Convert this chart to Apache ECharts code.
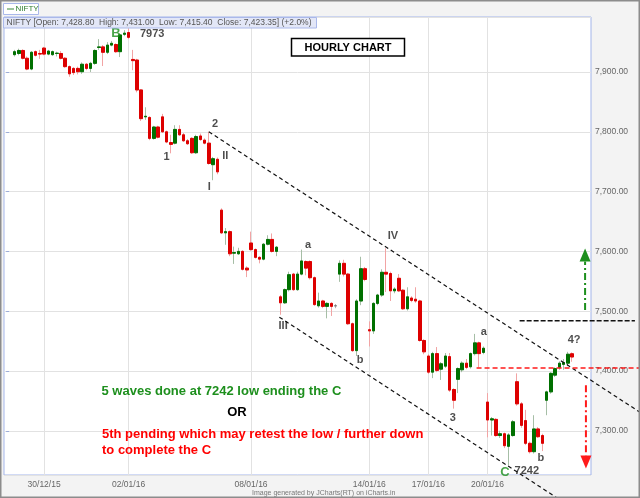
<!DOCTYPE html>
<html>
<head>
<meta charset="utf-8">
<title>NIFTY hourly</title>
<script src="https://cdn.jsdelivr.net/npm/echarts@6/dist/echarts.min.js"></script>
<style>
  html, body { margin: 0; padding: 0; background: #f3f3f3; }
  #chart { width: 640px; height: 498px; }
</style>
</head>
<body>
<div id="chart"></div>
<script>
// hourly candles, oldest first
const opens = [
  7929, 7931, 7936, 7923, 7905, 7934, 7931, 7940, 7930, 7929,
  7931, 7931, 7923, 7909, 7906, 7906, 7900.5, 7913, 7906, 7914.5,
  7941, 7942, 7933, 7945, 7946, 7934, 7963, 7966, 7921, 7920,
  7870, 7825, 7824, 7789, 7808, 7825, 7800, 7782, 7781, 7804,
  7795, 7785, 7789, 7765, 7793, 7786, 7781, 7745, 7754, 7669,
  7631, 7633, 7597, 7596, 7600, 7572, 7614, 7603, 7590, 7587,
  7612, 7620, 7600, 7524, 7514, 7536, 7562, 7536, 7562, 7583,
  7583, 7556, 7509, 7517, 7508, 7513, 7509, 7562, 7580, 7562,
  7479, 7434, 7517, 7571, 7469, 7467, 7513, 7527, 7565, 7563,
  7534, 7555, 7535, 7504, 7522, 7520, 7517, 7451, 7425, 7398,
  7429, 7403, 7408, 7424, 7369, 7386, 7402, 7413, 7407, 7429,
  7447, 7431, 7348, 7318, 7319, 7292, 7295, 7274, 7292, 7382,
  7345, 7317, 7279, 7265, 7303, 7292, 7351, 7365, 7393, 7406,
  7411, 7413, 7428.8
];
const highs = [
  7937, 7939, 7938, 7926, 7935, 7936, 7937, 7942, 7937, 7936,
  7934, 7935, 7925, 7911, 7908, 7909, 7916, 7915, 7917, 7938,
  7955, 7945, 7950, 7952, 7948, 7964, 7970, 7973, 7937, 7922,
  7871, 7841, 7826, 7810, 7810, 7830, 7802, 7795, 7811, 7811,
  7798, 7788, 7791, 7795, 7797, 7789, 7800, 7758, 7757, 7672,
  7639, 7635, 7608, 7606, 7602, 7575, 7633, 7605, 7592, 7614,
  7627, 7630, 7609, 7527, 7538, 7566, 7564, 7566, 7603, 7585,
  7585, 7558, 7531, 7519, 7515, 7515, 7512, 7585, 7586, 7564,
  7481, 7520, 7591, 7574, 7483, 7515, 7529, 7570, 7605, 7566,
  7540, 7562, 7537, 7540, 7525, 7540, 7519, 7453, 7428, 7432,
  7440, 7415, 7430, 7430, 7371, 7406, 7416, 7420, 7431, 7462,
  7449, 7441, 7363, 7323, 7321, 7300, 7297, 7296, 7318, 7396,
  7348, 7335, 7282, 7326, 7306, 7295, 7367, 7398, 7406, 7416,
  7420, 7432, 7431
];
const lows = [
  7926, 7928, 7921, 7903, 7903, 7926, 7922, 7928, 7928, 7927,
  7926, 7921, 7907, 7892, 7895, 7896, 7897, 7903, 7900, 7912,
  7937, 7910, 7930, 7943, 7932, 7925, 7960, 7955, 7903, 7866,
  7818, 7820, 7786, 7787, 7789, 7798, 7781, 7764, 7779, 7793,
  7783, 7778, 7763, 7763, 7785, 7779, 7745, 7719, 7729, 7629,
  7611, 7592, 7579, 7594, 7568, 7557, 7601, 7588, 7580, 7585,
  7610, 7598, 7592, 7494, 7512, 7533, 7534, 7534, 7560, 7560,
  7553, 7509, 7506, 7505, 7488, 7492, 7505, 7549, 7558, 7477,
  7432, 7425, 7510, 7550, 7441, 7462, 7510, 7524, 7532, 7517,
  7530, 7532, 7502, 7501, 7515, 7514, 7449, 7428, 7395, 7388,
  7398, 7385, 7405, 7365, 7337, 7363, 7398, 7403, 7404, 7426,
  7406, 7428, 7289, 7292, 7290, 7288, 7271, 7242, 7290, 7342,
  7305, 7276, 7262, 7262, 7288, 7266, 7326, 7362, 7390, 7402,
  7402, 7408, 7415.4
];
const closes = [
  7934, 7936, 7923, 7905, 7933, 7928, 7930, 7930, 7935, 7934,
  7931.5, 7923, 7909, 7897, 7899, 7900.5, 7913, 7906, 7914.5, 7936,
  7942, 7933, 7945, 7948, 7934, 7962, 7965, 7958, 7919, 7870,
  7822, 7826, 7789, 7808, 7791, 7800, 7783, 7779, 7804, 7795,
  7785, 7780, 7765, 7792, 7787, 7781, 7747, 7755, 7733, 7631,
  7633, 7596, 7598, 7600, 7570, 7569, 7603, 7590, 7587, 7612,
  7620, 7600, 7607, 7514, 7536, 7561, 7536, 7562, 7584, 7572,
  7556, 7511, 7517, 7508, 7513, 7508, 7509, 7580, 7562, 7479,
  7434, 7517, 7571, 7553, 7467, 7513, 7527, 7565, 7562, 7534,
  7537, 7534, 7504, 7524, 7518, 7517, 7451, 7432, 7398, 7429,
  7401, 7412, 7425, 7368, 7351, 7404, 7413, 7406, 7429, 7447,
  7429, 7438, 7318, 7320, 7292, 7295, 7275, 7293, 7315, 7345,
  7309, 7279, 7265, 7303, 7290, 7279, 7365, 7396, 7404, 7413,
  7414, 7428, 7423.35
];

// date labels on the x axis: candle number -> text
const tickBars = [7, 27, 56, 84, 98, 112];
const tickLabels = ['30/12/15', '02/01/16', '08/01/16', '14/01/16', '17/01/16', '20/01/16'];

// wave count marks: text, candle number, price
const waveText  = ['B', '7973', '2', '1', 'II', 'I', 'a', 'IV', 'III', 'b', 'a', '4?', '3', 'b', 'C', '7242'];
const waveBar   = [24, 32.6, 47.5, 36, 49.9, 46.1, 69.5, 89.6, 63.6, 81.8, 111.1, 132.5, 103.8, 124.6, 116.1, 121.3];
const wavePrice = [7965, 7963, 7813, 7758, 7760, 7707, 7611, 7625, 7475, 7418, 7465, 7452, 7322, 7255, 7230, 7232];

// drawn lines, [candle number, price] end points (arrows: start, tip)
const upperChannel = [[46, 7800], [148.1, 7331]];
const lowerChannel = [[62.7, 7490], [128.6, 7187]];
const upperLevel   = [[119.6, 7484], [146.9, 7484]];
const lowerLevel   = [[109.4, 7405], [148.1, 7405]];
const upTarget     = [[135.1, 7502], [135.1, 7605]];
const downTarget   = [[135.3, 7376], [135.3, 7237]];

const PAD_LEFT = 2, PAD_RIGHT = 4;
const N = opens.length + PAD_LEFT + PAD_RIGHT;
const FONT = '"Liberation Sans", Arial, sans-serif';

const categories = [];
for (let i = 0; i < N; i++) categories.push('k' + i);

const wickData = [], bodyData = [];
for (let i = 0; i < N; i++) {
  const n = i - PAD_LEFT;
  if (n < 0 || n >= opens.length) { wickData.push('-'); bodyData.push('-'); continue; }
  const o = opens[n], c = closes[n];
  // echarts order: open, close, low, high
  wickData.push([o, c, lows[n], highs[n]]);
  bodyData.push([o, c, Math.min(o, c), Math.max(o, c)]);
}

const waveData = waveText.map((t, i) => {
  let color = '#222', size = 11;
  if (t === 'B' || t === 'C') { color = '#1d8f1d'; size = 13; }
  return {
    value: [waveBar[i] + PAD_LEFT, wavePrice[i]],
    label: { formatter: t, color: color, fontSize: size }
  };
});

// fixed page furniture (legend box, header strip, title box, notes)
const staticGraphic = [
  { type: 'rect', z: 50, silent: true, shape: { x: 3.5, y: 3.5, width: 35, height: 11 },
    style: { fill: '#fff', stroke: '#a9b8ea', lineWidth: 1 } },
  { type: 'line', z: 51, silent: true, shape: { x1: 7, y1: 9, x2: 14, y2: 9 },
    style: { stroke: '#3a8a3a', lineWidth: 1 } },
  { type: 'text', z: 51, silent: true, x: 15.5, y: 9.2,
    style: { text: 'NIFTY', fill: '#2f7f2f', font: '8px ' + FONT, verticalAlign: 'middle' } },
  { type: 'rect', z: 50, silent: true, shape: { x: 3.5, y: 17.5, width: 313, height: 10.5 },
    style: { fill: '#e3e7f7', stroke: '#aab8ea', lineWidth: 1 } },
  { type: 'text', z: 51, silent: true, x: 6.5, y: 23,
    style: { text: 'NIFTY [Open: 7,428.80  High: 7,431.00  Low: 7,415.40  Close: 7,423.35] (+2.0%)',
      fill: '#555', font: '8.5px ' + FONT, verticalAlign: 'middle' } },
  { type: 'rect', z: 50, silent: true, shape: { x: 291.5, y: 38.5, width: 113, height: 17.5 },
    style: { fill: '#fff', stroke: '#000', lineWidth: 1.5 } },
  { type: 'text', z: 51, silent: true, x: 348, y: 47.5,
    style: { text: 'HOURLY CHART', fill: '#000', font: 'bold 11px ' + FONT, align: 'center', verticalAlign: 'middle' } },
  { type: 'text', z: 51, silent: true, x: 101.5, y: 391,
    style: { text: '5 waves done at 7242 low ending the C', fill: '#1d8f1d', font: 'bold 13px ' + FONT, verticalAlign: 'middle' } },
  { type: 'text', z: 51, silent: true, x: 237, y: 412,
    style: { text: 'OR', fill: '#000', font: 'bold 13px ' + FONT, align: 'center', verticalAlign: 'middle' } },
  { type: 'text', z: 51, silent: true, x: 102, y: 434.5,
    style: { text: '5th pending which may retest the low / further down', fill: '#ff0000', font: 'bold 13px ' + FONT, verticalAlign: 'middle' } },
  { type: 'text', z: 51, silent: true, x: 102, y: 450.5,
    style: { text: 'to complete the C', fill: '#ff0000', font: 'bold 13px ' + FONT, verticalAlign: 'middle' } },
  { type: 'text', z: 51, silent: true, x: 252, y: 493.5,
    style: { text: 'Image generated by JCharts(RT) on iCharts.in', fill: '#777', font: '7px ' + FONT, verticalAlign: 'middle' } },
  { type: 'rect', z: 100, silent: true, shape: { x: 0.75, y: 0.75, width: 638.5, height: 496.5 },
    style: { fill: 'none', stroke: '#8c8c8c', lineWidth: 1.5 } }
];

var myChart = echarts.init(document.getElementById('chart'));
myChart.setOption({
  animation: false,
  backgroundColor: '#f3f3f3',
  grid: {
    left: 4, right: 49, top: 17, bottom: 23,
    show: true, backgroundColor: '#fff', borderColor: '#a3b5ea', borderWidth: 1,
    outerBoundsMode: 'none'
  },
  xAxis: [
    {
      type: 'category', data: categories, boundaryGap: true,
      axisLine: { show: false }, axisTick: { show: false },
      axisLabel: {
        interval: 0, color: '#666', fontSize: 8.5, fontFamily: FONT, margin: 5,
        formatter: (v, i) => {
          const k = tickBars.indexOf(i - PAD_LEFT);
          return k >= 0 ? tickLabels[k] : '';
        }
      },
      splitLine: {
        show: true, alignWithLabel: true,
        interval: i => tickBars.indexOf(i - PAD_LEFT) >= 0,
        lineStyle: { color: '#e2e2e2' }
      }
    },
    { type: 'value', min: -0.5, max: N - 0.5, show: false }
  ],
  yAxis: {
    type: 'value', position: 'right', min: 7226, max: 7992, splitNumber: 8, scale: true,
    axisLine: { show: false },
    axisTick: { show: true, length: 3, lineStyle: { color: '#9aaad8' } },
    axisLabel: {
      color: '#666', fontSize: 8.5, fontFamily: FONT, margin: 4,
      showMinLabel: false, showMaxLabel: false,
      formatter: v => v.toLocaleString('en-US', { minimumFractionDigits: 2, maximumFractionDigits: 2 })
    },
    splitLine: { lineStyle: { color: '#e2e2e2' } }
  },
  series: [
    {
      name: 'NIFTY wicks', type: 'candlestick', data: wickData, barWidth: 3, silent: true, z: 2,
      itemStyle: {
        color: 'transparent', color0: 'transparent',
        borderColor: '#a6bea6', borderColor0: '#f2a4a4', borderColorDoji: '#b4b4b4', borderWidth: 1
      }
    },
    {
      name: 'NIFTY', type: 'candlestick', data: bodyData, barWidth: 3, silent: true, z: 3,
      itemStyle: {
        color: '#007000', color0: '#dd0000',
        borderColor: '#007000', borderColor0: '#dd0000', borderColorDoji: '#777', borderWidth: 1
      }
    },
    {
      type: 'scatter', xAxisIndex: 1, data: waveData, symbolSize: 1, clip: false, silent: true, z: 8,
      itemStyle: { color: 'transparent' },
      label: { show: true, position: 'inside', fontWeight: 'bold', fontFamily: FONT }
    }
  ],
  graphic: staticGraphic
});

// drawn lines: map [candle, price] through the chart's own axes, extended
// linearly where a line runs past the plot edge
const a0 = myChart.convertToPixel({ xAxisIndex: 1, yAxisIndex: 0 }, [0, 7300]);
const a1 = myChart.convertToPixel({ xAxisIndex: 1, yAxisIndex: 0 }, [100, 7900]);
function toPx(p) {
  const x = p[0] + PAD_LEFT;
  return [a0[0] + x * (a1[0] - a0[0]) / 100, a0[1] + (p[1] - 7300) * (a1[1] - a0[1]) / 600];
}
function dashed(pts, color, width, dash) {
  const p = pts.map(toPx);
  return { type: 'line', z: 40, silent: true,
    shape: { x1: p[0][0], y1: p[0][1], x2: p[1][0], y2: p[1][1] },
    style: { stroke: color, lineWidth: width, lineDash: dash } };
}
function arrow(pts, color) {
  const s = toPx(pts[0]), t = toPx(pts[1]);
  const dir = t[1] < s[1] ? 1 : -1;     // 1 = pointing up
  const baseY = t[1] + dir * 13;
  return [
    { type: 'line', z: 41, silent: true,
      shape: { x1: s[0], y1: s[1], x2: t[0], y2: baseY },
      style: { stroke: color, lineWidth: 2, lineDash: [7, 3, 2, 3] } },
    { type: 'polygon', z: 41, silent: true,
      shape: { points: [[t[0], t[1]], [t[0] - 5.5, baseY], [t[0] + 5.5, baseY]] },
      style: { fill: color } }
  ];
}
const drawn = [
  dashed(upperChannel, '#111', 1.2, [4, 3]),
  dashed(lowerChannel, '#111', 1.2, [4, 3]),
  dashed(upperLevel, '#111', 1.5, [5, 2]),
  dashed(lowerLevel, '#ff1a1a', 1.5, [5, 3])
].concat(arrow(upTarget, '#1d8f1d'), arrow(downTarget, '#ff1a1a'));

myChart.setOption({ graphic: staticGraphic.concat(drawn) }, { replaceMerge: ['graphic'] });
</script>
</body>
</html>
